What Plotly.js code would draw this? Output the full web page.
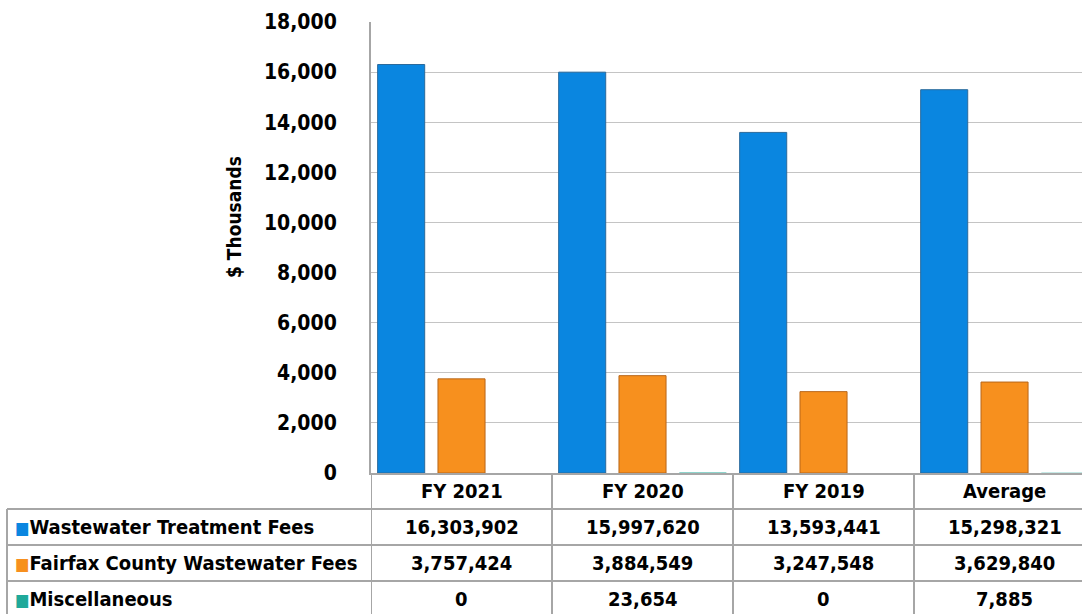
<!DOCTYPE html>
<html>
<head>
<meta charset="utf-8">
<script src="https://cdn.plot.ly/plotly-3.0.1.min.js"></script>
<style>
  html, body { margin: 0; padding: 0; background: #fff; }
  #chart { width: 1082px; height: 614px; }
</style>
</head>
<body>
<div id="chart"></div>
<script>
// ----- data (dollars) -----
const years = ["FY 2021", "FY 2020", "FY 2019", "Average"];
const seriesNames = ["Wastewater Treatment Fees", "Fairfax County Wastewater Fees", "Miscellaneous"];
const treatmentFees = [16303902, 15997620, 13593441, 15298321];
const fairfaxFees = [3757424, 3884549, 3247548, 3629840];
const miscFees = [0, 23654, 0, 7885];

const colors = ["#0a86e0", "#f7901e", "#1fa99a"];
const edgeColors = ["#2b6a9c", "#b8661a", "#1a7a70"];
const edgeWidths = [1, 1, 0];
const FONT = "'DejaVu Sans Condensed', 'Liberation Sans', Arial, sans-serif";
const gridGray = "#a6a6a6";

const allSeries = [treatmentFees, fairfaxFees, miscFees];

// bars are drawn in $ thousands
const traces = allSeries.map((vals, i) => ({
  type: "bar",
  x: years,
  y: vals.map(v => v / 1000),
  name: seriesNames[i],
  marker: { color: colors[i], line: { color: edgeColors[i], width: edgeWidths[i] } },
  hoverinfo: "skip"
}));

// table geometry in paper units (plot height = 451px)
const rowH = 36 / 451;
const shapes = [];
const annotations = [];

// vertical dividers under the categories
[-0.5, 0.5, 1.5, 2.5, 3.5].forEach(b => {
  shapes.push({ type: "line", xref: "x", yref: "paper", x0: b, x1: b, y0: 0, y1: -0.36,
    line: { color: gridGray, width: 2 } });
});
// left edge of label column
const leftEdge = (7 - 371) / 711;
shapes.push({ type: "line", xref: "paper", yref: "paper", x0: leftEdge, x1: leftEdge, y0: -rowH, y1: -0.36,
  line: { color: gridGray, width: 2 } });
// horizontal row lines
[1, 2, 3].forEach(r => {
  shapes.push({ type: "line", xref: "paper", yref: "paper", x0: leftEdge, x1: 1, y0: -r * rowH, y1: -r * rowH,
    line: { color: gridGray, width: 2 } });
});

// header texts
years.forEach(yr => {
  annotations.push({ xref: "x", yref: "paper", x: yr, y: -rowH / 2, text: yr, showarrow: false,
    yanchor: "middle", font: { family: FONT, size: 20, color: "#000", weight: "bold" } });
});

// row labels + values
allSeries.forEach((vals, i) => {
  const yc = -(i + 1.5) * rowH;
  annotations.push({ xref: "paper", yref: "paper", x: (13 - 371) / 711, y: yc, xanchor: "left", yanchor: "middle",
    showarrow: false,
    text: '<span style="color:' + colors[i] + ';font-size:17px">■</span>' + seriesNames[i],
    font: { family: FONT, size: 20, color: "#000", weight: "bold" } });
  vals.forEach((v, j) => {
    annotations.push({ xref: "x", yref: "paper", x: years[j], y: yc, yanchor: "middle", showarrow: false,
      text: v.toLocaleString("en-US"),
      font: { family: FONT, size: 20, color: "#000", weight: "bold" } });
  });
});

// y-axis title
annotations.push({ xref: "paper", yref: "paper", x: (234 - 371) / 711, y: 1 - 195 / 451, textangle: -90,
  showarrow: false, text: "$ Thousands", xanchor: "center", yanchor: "middle",
  font: { family: FONT, size: 19, color: "#000", weight: "bold" } });

const layout = {
  width: 1082,
  height: 614,
  margin: { l: 371, r: 0, t: 22, b: 141 },
  paper_bgcolor: "#fff",
  plot_bgcolor: "#fff",
  showlegend: false,
  barmode: "group",
  bargap: 0,
  bargroupgap: 0.22,
  xaxis: {
    type: "category",
    range: [-0.5, 3.428],
    showticklabels: false,
    showgrid: false,
    showline: true,
    linecolor: gridGray,
    linewidth: 2,
    zeroline: false,
    ticks: ""
  },
  yaxis: {
    range: [0, 18000],
    dtick: 2000,
    tickformat: ",d",
    showgrid: true,
    gridcolor: "#c4c4c4",
    gridwidth: 1,
    showline: true,
    linecolor: gridGray,
    linewidth: 2,
    zeroline: false,
    ticks: "",
    ticklabelstandoff: 28,
    tickfont: { family: FONT, size: 21, color: "#000", weight: "bold" }
  },
  shapes: shapes,
  annotations: annotations
};

Plotly.newPlot("chart", traces, layout, { displayModeBar: false, staticPlot: true });
</script>
</body>
</html>
